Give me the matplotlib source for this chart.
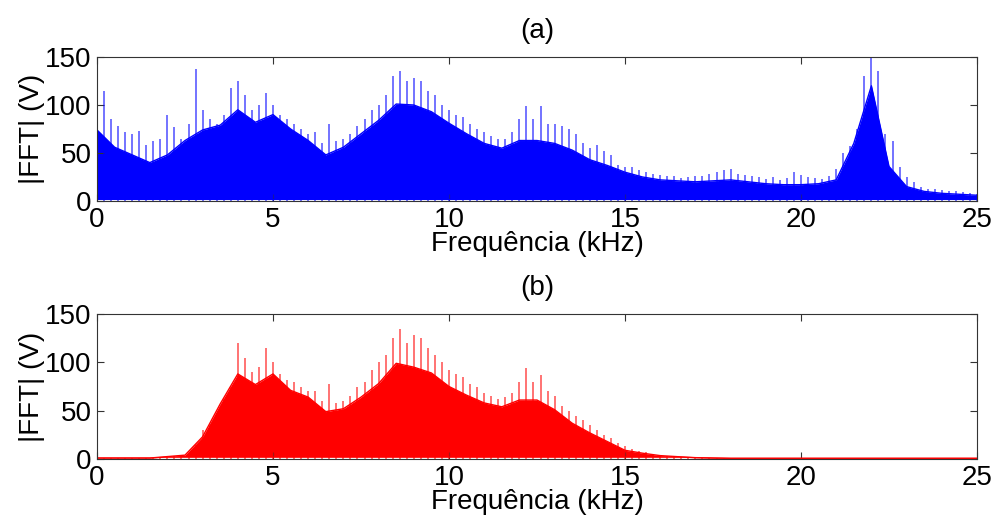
import numpy as np
from matplotlib import pyplot as plt

plt.rcParams['font.family'] = ['Liberation Sans', 'DejaVu Sans']

# envelope of the dense spectrum body, sampled every 0.5 kHz
body_freq = np.arange(0, 25.01, 0.5)
body_a = [74, 56, 48, 40, 48, 63, 74, 79, 95, 82,
          90, 75, 63, 48, 56, 70, 84, 101, 100, 93,
          81, 70, 60, 55, 63, 63, 60, 53, 43, 37,
          30, 25, 22, 21, 20, 21, 22, 20, 18, 17,
          17, 18, 22, 60, 120, 36, 15, 10, 8, 7,
          6]
body_b = [1, 1, 1, 1, 2.5, 4, 23, 57, 88, 77,
          88, 71, 64, 49, 52, 64, 78, 99, 95, 89,
          75, 66, 58, 54, 61, 61, 51, 37, 27, 18,
          9, 6, 3.5, 2.4, 1.4, 1, 0.7, 0.7, 0.7, 0.7,
          0.7, 0.7, 0.7, 0.7, 0.7, 0.7, 0.7, 0.7, 0.7, 0.7,
          0.7]

# tallest spike in each 0.2 kHz slot
spike_freq = np.arange(0, 25.01, 0.2)
spike_a = [120, 115, 85, 78, 72, 70, 73, 58, 62, 65,
           90, 77, 65, 80, 137, 95, 85, 80, 90, 118,
           125, 110, 95, 100, 113, 100, 90, 85, 80, 75,
           70, 72, 60, 80, 62, 65, 70, 78, 85, 95,
           100, 110, 130, 135, 125, 128, 125, 115, 110, 100,
           95, 90, 88, 80, 75, 72, 68, 65, 65, 72,
           85, 99, 85, 99, 80, 80, 78, 75, 70, 60,
           55, 58, 52, 48, 38, 35, 35, 32, 30, 28,
           27, 26, 26, 24, 25, 26, 26, 28, 30, 32,
           33, 28, 27, 26, 25, 23, 25, 22, 24, 30,
           27, 25, 24, 23, 26, 33, 50, 57, 75, 130,
           180, 135, 70, 62, 35, 25, 20, 15, 13, 12,
           11, 10, 10, 9, 8, 7]
spike_b = [1, 1, 1, 1, 1, 1, 1, 1, 1.5, 2,
           3, 3, 4, 6, 15, 30, 35, 47, 62, 75,
           120, 105, 90, 95, 115, 100, 88, 82, 80, 75,
           70, 70, 60, 78, 58, 60, 65, 75, 80, 92,
           100, 108, 125, 135, 120, 128, 125, 115, 108, 100,
           92, 88, 85, 78, 75, 68, 65, 62, 64, 68,
           80, 94, 80, 87, 70, 65, 55, 50, 45, 40,
           35, 30, 25, 22, 17, 13, 10, 8, 7, 5,
           4, 3.5, 3, 2.5, 2, 1.6, 1.3, 1, 1, 1,
           1, 1, 1, 1, 1, 1, 1, 1, 1, 1,
           1, 1, 1, 1, 1, 1, 1, 1, 1, 1,
           1, 1, 1, 1, 1, 1, 1, 1, 1, 1,
           1, 1, 1, 1, 1, 1]
floor_level = 2.0

x_ticks = [0, 5, 10, 15, 20, 25]
y_ticks = [0, 50, 100, 150]

fig = plt.figure(figsize=(9.95, 5.21), dpi=100)
ax_a = fig.add_axes([0.0975, 0.6142, 0.8844, 0.2764])
ax_b = fig.add_axes([0.0975, 0.1190, 0.8844, 0.2783])

panels = [(ax_a, body_a, spike_a, '#0000ff', '(a)'),
          (ax_b, body_b, spike_b, '#ff0000', '(b)')]

for ax, body, spike, color, title in panels:
    body = np.array(body, dtype=float)
    spike = np.array(spike, dtype=float)
    ax.vlines(spike_freq, 0, spike, color=color, lw=1.4, alpha=0.55)
    ax.fill_between(body_freq, floor_level, body, where=body > floor_level,
                    interpolate=True, color=color, lw=0)
    ax.plot(body_freq, body, color=color, lw=1.0)
    ax.plot(body_freq, np.minimum(body, floor_level), color=color, lw=0.8)

    ax.set_xlim(0, 25)
    ax.set_ylim(0, 150)
    ax.set_xticks(x_ticks)
    ax.set_yticks(y_ticks)
    ax.tick_params(direction='in', top=True, right=True, length=5,
                   width=0.8, labelsize=20, colors='#333333',
                   labelcolor='black')
    ax.tick_params(axis='x', pad=4)
    ax.tick_params(axis='y', pad=4)
    for sp in ax.spines.values():
        sp.set_linewidth(0.8)
        sp.set_color('#333333')
    ax.set_xlabel('Frequência (kHz)', fontsize=20, labelpad=-1)
    ax.set_ylabel('|FFT| (V)', fontsize=20, labelpad=0)
    ax.set_title(title, fontsize=20, pad=14)

fig.savefig('out.png', dpi=100)
